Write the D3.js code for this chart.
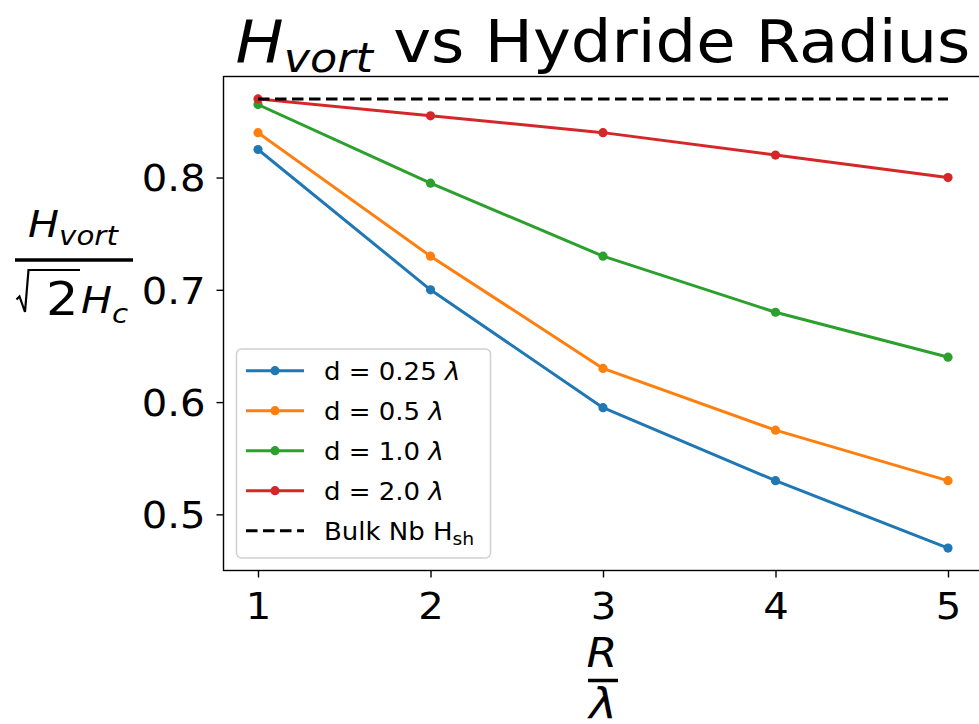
<!DOCTYPE html>
<html>
<head>
<meta charset="utf-8">
<script src="https://cdn.jsdelivr.net/npm/d3@7"></script>
<style>
  html, body { margin: 0; padding: 0; background: #fff; }
  svg { display: block; font-family: "DejaVu Sans", sans-serif; }
</style>
</head>
<body>
<svg id="chart" width="979" height="724"></svg>
<script>
// Hydride radius in units of the penetration depth (R / λ)
const radii = [1, 2, 3, 4, 5];
const xTicks = [1, 2, 3, 4, 5];
const yTicks = [0.5, 0.6, 0.7, 0.8];

// Vortex entry field, normalised by √2·Hc, for each hydride spacing d
const seriesLabels = ["d = 0.25 ", "d = 0.5 ", "d = 1.0 ", "d = 2.0 "];
const seriesColors = ["#1f77b4", "#ff7f0e", "#2ca02c", "#d62728"];
const d025 = [0.825, 0.700, 0.595, 0.530, 0.470];
const d050 = [0.840, 0.730, 0.630, 0.575, 0.530];
const d100 = [0.865, 0.795, 0.730, 0.680, 0.640];
const d200 = [0.870, 0.855, 0.840, 0.820, 0.800];
const seriesValues = [d025, d050, d100, d200];

// Superheating field of bulk Nb
const bulkHsh = 0.87;

const svg = d3.select("#chart");
const plotL = 223.5, plotR = 982.5, plotT = 76.5, plotB = 570.5;
const SX = 1.085; // horizontal widening applied to text glyphs

// widen a text element about its own anchor point
function widen(sel, sx = SX) {
  sel.each(function () {
    const t = d3.select(this);
    const ax = +t.attr("x") || 0, ay = +t.attr("y") || 0;
    t.attr("transform", `translate(${ax},${ay}) scale(${sx},1) translate(${-ax},${-ay})`);
  });
  return sel;
}

const x = d3.scaleLinear().domain([0.8, 5.2]).range([plotL, plotR]);
const y = d3.scaleLinear().domain([0.45, 0.89]).range([plotB, plotT]);

// Series lines and markers
const line = d3.line().x((d, i) => x(radii[i])).y(d => y(d));
const plot = svg.append("g");
seriesValues.forEach((vals, k) => {
  const g = plot.append("g");
  g.append("path").datum(vals)
    .attr("d", line).attr("fill", "none")
    .attr("stroke", seriesColors[k]).attr("stroke-width", 3)
    .attr("stroke-linejoin", "round").attr("stroke-linecap", "square");
  g.selectAll("circle").data(vals).join("circle")
    .attr("cx", (d, i) => x(radii[i])).attr("cy", d => y(d))
    .attr("r", 4.6).attr("fill", seriesColors[k]);
});

// Bulk Nb reference line
plot.append("line")
  .attr("x1", x(radii[0])).attr("x2", x(radii[radii.length - 1]))
  .attr("y1", y(bulkHsh)).attr("y2", y(bulkHsh))
  .attr("stroke", "#000").attr("stroke-width", 3)
  .attr("stroke-dasharray", "11.5,5.5");

// Axes
const xAxis = svg.append("g").attr("transform", `translate(0,${plotB})`)
  .call(d3.axisBottom(x).tickValues(xTicks).tickFormat(d3.format("d")).tickSizeInner(7).tickSizeOuter(0).tickPadding(6));
const yAxis = svg.append("g").attr("transform", `translate(${plotL},0)`)
  .call(d3.axisLeft(y).tickValues(yTicks).tickFormat(d3.format(".1f")).tickSizeInner(7).tickSizeOuter(0).tickPadding(11));
[xAxis, yAxis].forEach(a => {
  a.select(".domain").remove();
  a.selectAll(".tick line").attr("stroke", "#000").attr("stroke-width", 1.4);
  a.selectAll(".tick text").attr("font-size", 37).attr("font-family", "DejaVu Sans").attr("fill", "#000");
});
xAxis.selectAll(".tick text").attr("dy", "0.95em");
yAxis.selectAll(".tick text").attr("dy", "0.36em");
widen(xAxis.selectAll(".tick text"));
widen(yAxis.selectAll(".tick text"));

// Spines (box)
svg.append("rect")
  .attr("x", plotL).attr("y", plotT).attr("width", plotR - plotL).attr("height", plotB - plotT)
  .attr("fill", "none").attr("stroke", "#000").attr("stroke-width", 1.4);

// Legend
const lg = svg.append("g");
lg.append("rect").attr("x", 236.5).attr("y", 349).attr("width", 254).attr("height", 209)
  .attr("rx", 5).attr("fill", "#fff").attr("fill-opacity", 0.8)
  .attr("stroke", "#d0d0d0").attr("stroke-width", 1.5);
const rowY = i => 370.7 + i * 40;
seriesLabels.forEach((lab, k) => {
  lg.append("line").attr("x1", 246).attr("x2", 304).attr("y1", rowY(k)).attr("y2", rowY(k))
    .attr("stroke", seriesColors[k]).attr("stroke-width", 3);
  lg.append("circle").attr("cx", 275).attr("cy", rowY(k)).attr("r", 4.6).attr("fill", seriesColors[k]);
  const t = lg.append("text").attr("x", 324).attr("y", rowY(k) + 9.5).attr("font-size", 25);
  t.append("tspan").text(lab);
  t.append("tspan").attr("font-style", "italic").text("λ");
  widen(t, 1.04);
});
lg.append("line").attr("x1", 246).attr("x2", 304).attr("y1", rowY(4)).attr("y2", rowY(4))
  .attr("stroke", "#000").attr("stroke-width", 3).attr("stroke-dasharray", "11.5,5.5");
const bulkText = lg.append("text").attr("x", 324).attr("y", rowY(4) + 9.5).attr("font-size", 25);
bulkText.append("tspan").text("Bulk Nb H");
bulkText.append("tspan").attr("font-size", 18).attr("dy", 5).text("sh");
widen(bulkText, 1.04);

// Title
const title = svg.append("text").attr("x", 603).attr("y", 62)
  .attr("text-anchor", "middle").attr("font-size", 59);
title.append("tspan").attr("font-style", "italic").text("H");
title.append("tspan").attr("font-style", "italic").attr("font-size", 41).attr("dy", 10).text("vort");
title.append("tspan").attr("dy", -10).text(" vs Hydride Radius");
widen(title);

// Y-axis label: H_vort / (√2 H_c)
const yl = svg.append("g");
const num = yl.append("text").attr("x", 73).attr("y", 237).attr("text-anchor", "middle").attr("font-size", 38);
num.append("tspan").attr("font-style", "italic").text("H");
num.append("tspan").attr("font-style", "italic").attr("font-size", 27).attr("dy", 8).text("vort");
widen(num);
yl.append("line").attr("x1", 15).attr("x2", 133).attr("y1", 260).attr("y2", 260)
  .attr("stroke", "#000").attr("stroke-width", 3.5);
yl.append("path").attr("d", "M16.5,299.5 L19.5,296.5 L25,312 L28.5,270 L80,270")
  .attr("fill", "none").attr("stroke", "#000").attr("stroke-width", 2.2);
widen(yl.append("text").attr("x", 46).attr("y", 315).attr("font-size", 47).text("2"));
const den = yl.append("text").attr("x", 81).attr("y", 313).attr("font-size", 38);
den.append("tspan").attr("font-style", "italic").text("H");
den.append("tspan").attr("font-style", "italic").attr("font-size", 27).attr("dy", 10).text("c");
widen(den);

// X-axis label: R / λ
const xl = svg.append("g");
widen(xl.append("text").attr("x", 602).attr("y", 667).attr("text-anchor", "middle")
  .attr("font-size", 41).attr("font-style", "italic").text("R"));
xl.append("line").attr("x1", 588).attr("x2", 618).attr("y1", 680.5).attr("y2", 680.5)
  .attr("stroke", "#000").attr("stroke-width", 3.5);
widen(xl.append("text").attr("x", 603).attr("y", 719).attr("text-anchor", "middle")
  .attr("font-size", 43).attr("font-style", "italic").text("λ"));
</script>
</body>
</html>
